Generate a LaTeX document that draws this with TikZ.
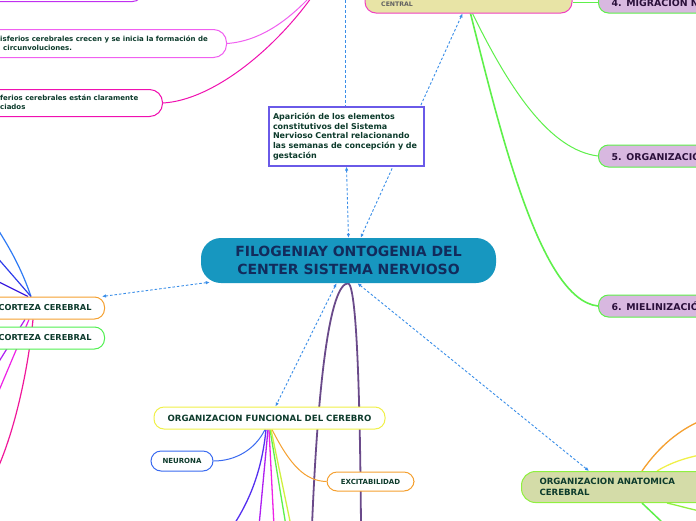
\documentclass[tikz,border=0pt]{standalone}
\usepackage{fontspec}
\setmainfont{DejaVu Sans}
\usetikzlibrary{arrows.meta,calc}
\definecolor{txt}{HTML}{0D3B2C}
\definecolor{ctext}{HTML}{122B5C}
\definecolor{cblue}{HTML}{1797C0}
\definecolor{dblue}{HTML}{3A8EE8}
\definecolor{apb}{HTML}{6A5AE8}
\definecolor{khaki}{HTML}{E8E4A6}
\definecolor{cpink}{HTML}{F040C0}
\definecolor{lilac}{HTML}{D8B8E0}
\definecolor{ptext}{HTML}{2A0F3A}
\definecolor{lgrn}{HTML}{5EF04A}
\definecolor{agrn}{HTML}{90F040}
\definecolor{olivef}{HTML}{D4DCA8}
\definecolor{yel}{HTML}{F0F048}
\definecolor{nblue}{HTML}{3A6AF0}
\definecolor{orng}{HTML}{F5A030}
\definecolor{cgrn}{HTML}{50F050}
\definecolor{tpurp}{HTML}{C030F0}
\definecolor{tmag}{HTML}{F060F0}
\definecolor{tpink}{HTML}{F010B0}
\definecolor{purpl}{HTML}{6A4A8A}
\definecolor{bluea}{HTML}{2F7BF5}
\definecolor{blueb}{HTML}{2E3DEB}
\definecolor{bluec}{HTML}{3D1FE0}
\definecolor{lpurp}{HTML}{AE1FF2}
\definecolor{lmag}{HTML}{EE22E6}
\definecolor{lpink}{HTML}{F0189A}
\definecolor{bviol}{HTML}{5530F0}
\definecolor{ygrn}{HTML}{D0F040}
\newcommand\myfa{\fontsize{8.6}{10.5}\selectfont}
\newcommand\myfb{\fontsize{8}{9.7}\selectfont}
\newcommand\myfc{\fontsize{8.2}{10}\selectfont}
\newcommand\myfd{\fontsize{9.4}{11}\selectfont}
\newcommand\myfs{\fontsize{7}{8}\selectfont}
\newcommand\myft{\fontsize{7}{9}\selectfont}
\newcommand\mycf{\fontsize{14}{18.5}\selectfont}
\pgfdeclarelayer{bg}
\pgfsetlayers{bg,main}
\begin{document}
\begin{tikzpicture}[x=1pt,y=-1pt,
  every node/.style={font=\bfseries, text=txt, inner sep=0pt},
  pill/.style={draw, rounded corners=10pt, line width=1pt, fill=white},
  lilacbox/.style={draw=lgrn, fill=lilac, rounded corners=10pt, line width=1pt, anchor=west, minimum height=22pt, text width=160pt, inner xsep=13pt, align=left, text=ptext, font=\bfseries\myfd},
  dlink/.style={draw=dblue, line width=0.9pt, dash pattern=on 2.5pt off 2pt, {Latex[length=4pt,width=3.5pt]}-{Latex[length=4pt,width=3.5pt]}},
  dline/.style={draw=dblue, line width=1.2pt, dash pattern=on 3pt off 2pt},
  conn/.style={line width=1pt},
]
\useasboundingbox (0,0) rectangle (696,520);

% ---------- nodes ----------
\node[fill=cblue, rounded corners=20pt, minimum width=295pt, minimum height=45pt, align=center, text=ctext, font=\bfseries\mycf] (c) at (348.5,260.5) {FILOGENIAY ONTOGENIA DEL\\CENTER SISTEMA NERVIOSO};

\node[draw=apb, line width=1.2pt, fill=white, minimum width=155pt, minimum height=59pt, text width=147pt, inner xsep=4pt, align=left, font=\bfseries\myfb] (ap) at (346.5,136.5) {Aparición de los elementos\\constitutivos del Sistema\\Nervioso Central relacionando\\las semanas de concepción y de\\gestación};

\node[draw=cpink, fill=khaki, rounded corners=11pt, line width=1pt, minimum width=207pt, minimum height=46pt] (cen) at (468.5,-10) {};
\node[anchor=west, text=black!62, font=\bfseries\fontsize{6.2}{7}\selectfont] (centxt) at (381,4) {CENTRAL};

\node[lilacbox] (m4) at (598,2) {4. MIGRACIÓN NEURONAL};
\node[lilacbox] (m5) at (598,156) {5. ORGANIZACIÓN};
\node[lilacbox] (m6) at (598,306) {6. MIELINIZACIÓN};

\node[pill, draw=orng, anchor=east, inner xsep=13pt, minimum height=22pt, font=\bfseries\myfc] (cx1) at (105,308) {CORTEZA CEREBRAL};
\node[pill, draw=cgrn, anchor=east, inner xsep=13pt, minimum height=22pt, font=\bfseries\myfc] (cx2) at (105,338) {CORTEZA CEREBRAL};

\node[pill, draw=yel, minimum width=231pt, minimum height=22pt, font=\bfseries\myfa] (of) at (269.5,418) {ORGANIZACION FUNCIONAL DEL CEREBRO};
\node[pill, draw=nblue, minimum width=62pt, minimum height=20pt, font=\bfseries\myfs] (neu) at (182,461) {NEURONA};
\node[pill, draw=orng, minimum width=87pt, minimum height=19pt, font=\bfseries\myfs] (exc) at (370.5,481.5) {EXCITABILIDAD};

\node[pill, draw=agrn, fill=olivef, anchor=north west, rounded corners=14pt, minimum height=31pt, text width=214pt, inner xsep=18pt, align=left, font=\bfseries\myfa] (ana) at (521,471) {ORGANIZACION ANATOMICA\\CEREBRAL};

\node[pill, draw=tpurp, minimum width=200pt, minimum height=22pt, anchor=south east] (tA) at (143,2) {};
\node[pill, draw=tmag, rounded corners=13pt, minimum width=300pt, minimum height=28pt, anchor=north east] (tB) at (227,29) {};
\node[pill, draw=tpink, rounded corners=13pt, minimum width=300pt, minimum height=27pt, anchor=north east] (tC) at (163,89) {};
\node[anchor=base west, align=left, font=\bfseries\myft] (tBt) at (0,50) {isferios cerebrales crecen y se inicia la formación de\\\hspace*{3pt}circunvoluciones.};
\node[anchor=base west, align=left, font=\bfseries\myft] (tCt) at (0,109) {ferios cerebrales están claramente\\ciados};

% ---------- free ends ----------
\coordinate (tl) at (318,-12);
\coordinate (vtop) at (345.5,-10);
\coordinate (lb1) at ($(cx1.north east)+(-74,0)$);
\coordinate (lb2) at ($(cx1.south east)+(-74,0)$);
\coordinate (ofb) at ($(of.south)+(-1.5,0)$);
\coordinate (la1) at (-5,225);
\coordinate (la2) at (-5,255);
\coordinate (la3) at (-5,280);
\coordinate (la4) at (-5,368);
\coordinate (la5) at (-5,400);
\coordinate (la6) at (-3,470);
\coordinate (ob1) at (233,526);
\coordinate (ob2) at (259,526);
\coordinate (ob3) at (274,526);
\coordinate (ob4) at (286,526);
\coordinate (ob5) at (291,526);
\coordinate (pl) at (312,526);
\coordinate (pr) at (361,526);
\coordinate (an1) at (700,421);
\coordinate (an2) at (700,455);
\coordinate (an3) at (663,523);
\coordinate (an4) at (700,511);

% ---------- connectors (background layer) ----------
\begin{pgfonlayer}{bg}
\fill[white] (0,0) rectangle (696,520);
% top-left
\draw[conn, tmag] (tB.east) .. controls (262,41) and (292,18) .. (tl);
\draw[conn, tpink] (tC.east) .. controls (215,100) and (280,45) .. (tl);
\draw[dline] (vtop) -- (vtop |- ap.north);
% central box links
\draw[conn, lgrn] (cen.east |- m4.west) -- (m4.west);
\draw[lgrn, line width=1.6pt] ($(cen.south)+(2,0)$) .. controls (500,130) and (540,300) .. (m6.west);
\draw[conn, lgrn] ($(cen.south)+(4,0)$) .. controls (510,90) and (550,150) .. (m5.west);
% dashed
\draw[dlink] (ap.south) -- (c.north);
\draw[dlink] ($(cen.south)+(-6,0)$) -- (c.62);
\draw[dlink] ($(cx1.north east)+(-3,0)$) -- ($(c.south west)+(9,-1)$);
\draw[dlink] ($(c.south)+(-12,0)$) -- ($(of.north)+(6,0)$);
\draw[dlink] ($(c.south)+(9,0)$) -- ($(ana.north west)+(68,0)$);
% purple arch
\draw[purpl, line width=1.8pt] (pl) .. controls (318,380) and (330,283) .. (c.south) .. controls (357,290) and (360,400) .. (pr);
% left bundle
\draw[conn, bluea, line width=1.2pt] (lb1) .. controls (22,270) and (10,248) .. (la1);
\draw[conn, blueb, line width=1.2pt] (lb1) -- (la2);
\draw[conn, bluec, line width=1.2pt] ($(lb1)+(-3,0)$) -- (la3);
\draw[conn, lpurp, line width=1.2pt] ($(lb2)+(-6,0)$) -- (la4);
\draw[conn, lmag, line width=1.2pt] ($(lb2)+(-2,0)$) -- (la5);
\draw[conn, lpink, line width=1.2pt] ($(lb2)+(2,0)$) .. controls (28,370) and (15,430) .. (la6);
% organizacion funcional children
\draw[conn, nblue] ($(ofb)+(-3,0)$) .. controls (255,450) and (235,461) .. (neu.east);
\draw[conn, orng] ($(ofb)+(4,0)$) .. controls (290,465) and (305,481) .. (exc.west);
\draw[bviol, line width=1.3pt] ($(ofb)+(-2,0)$) .. controls (262,470) and (250,500) .. (ob1);
\draw[lpurp, line width=1.3pt] (ofb) -- (ob2);
\draw[lmag, line width=1.3pt] ($(ofb)+(1,0)$) -- (ob3);
\draw[lgrn, line width=1.3pt] ($(ofb)+(2,0)$) -- (ob4);
\draw[ygrn, line width=1.3pt] ($(ofb)+(3,0)$) -- (ob5);
% anatomica children
\draw[conn, orng, line width=1.3pt] ($(ana.north west)+(121,0)$) .. controls (660,445) and (680,430) .. (an1);
\draw[conn, yel, line width=1.3pt] ($(ana.north west)+(136,0)$) .. controls (670,463) and (685,458) .. (an2);
\draw[conn, lgrn, line width=1.5pt] ($(ana.south west)+(121,0)$) -- (an3);
\draw[conn, agrn, line width=1.3pt] ($(ana.south west)+(146,0)$) .. controls (680,506) and (690,509) .. (an4);
\end{pgfonlayer}
\end{tikzpicture}
\end{document}
